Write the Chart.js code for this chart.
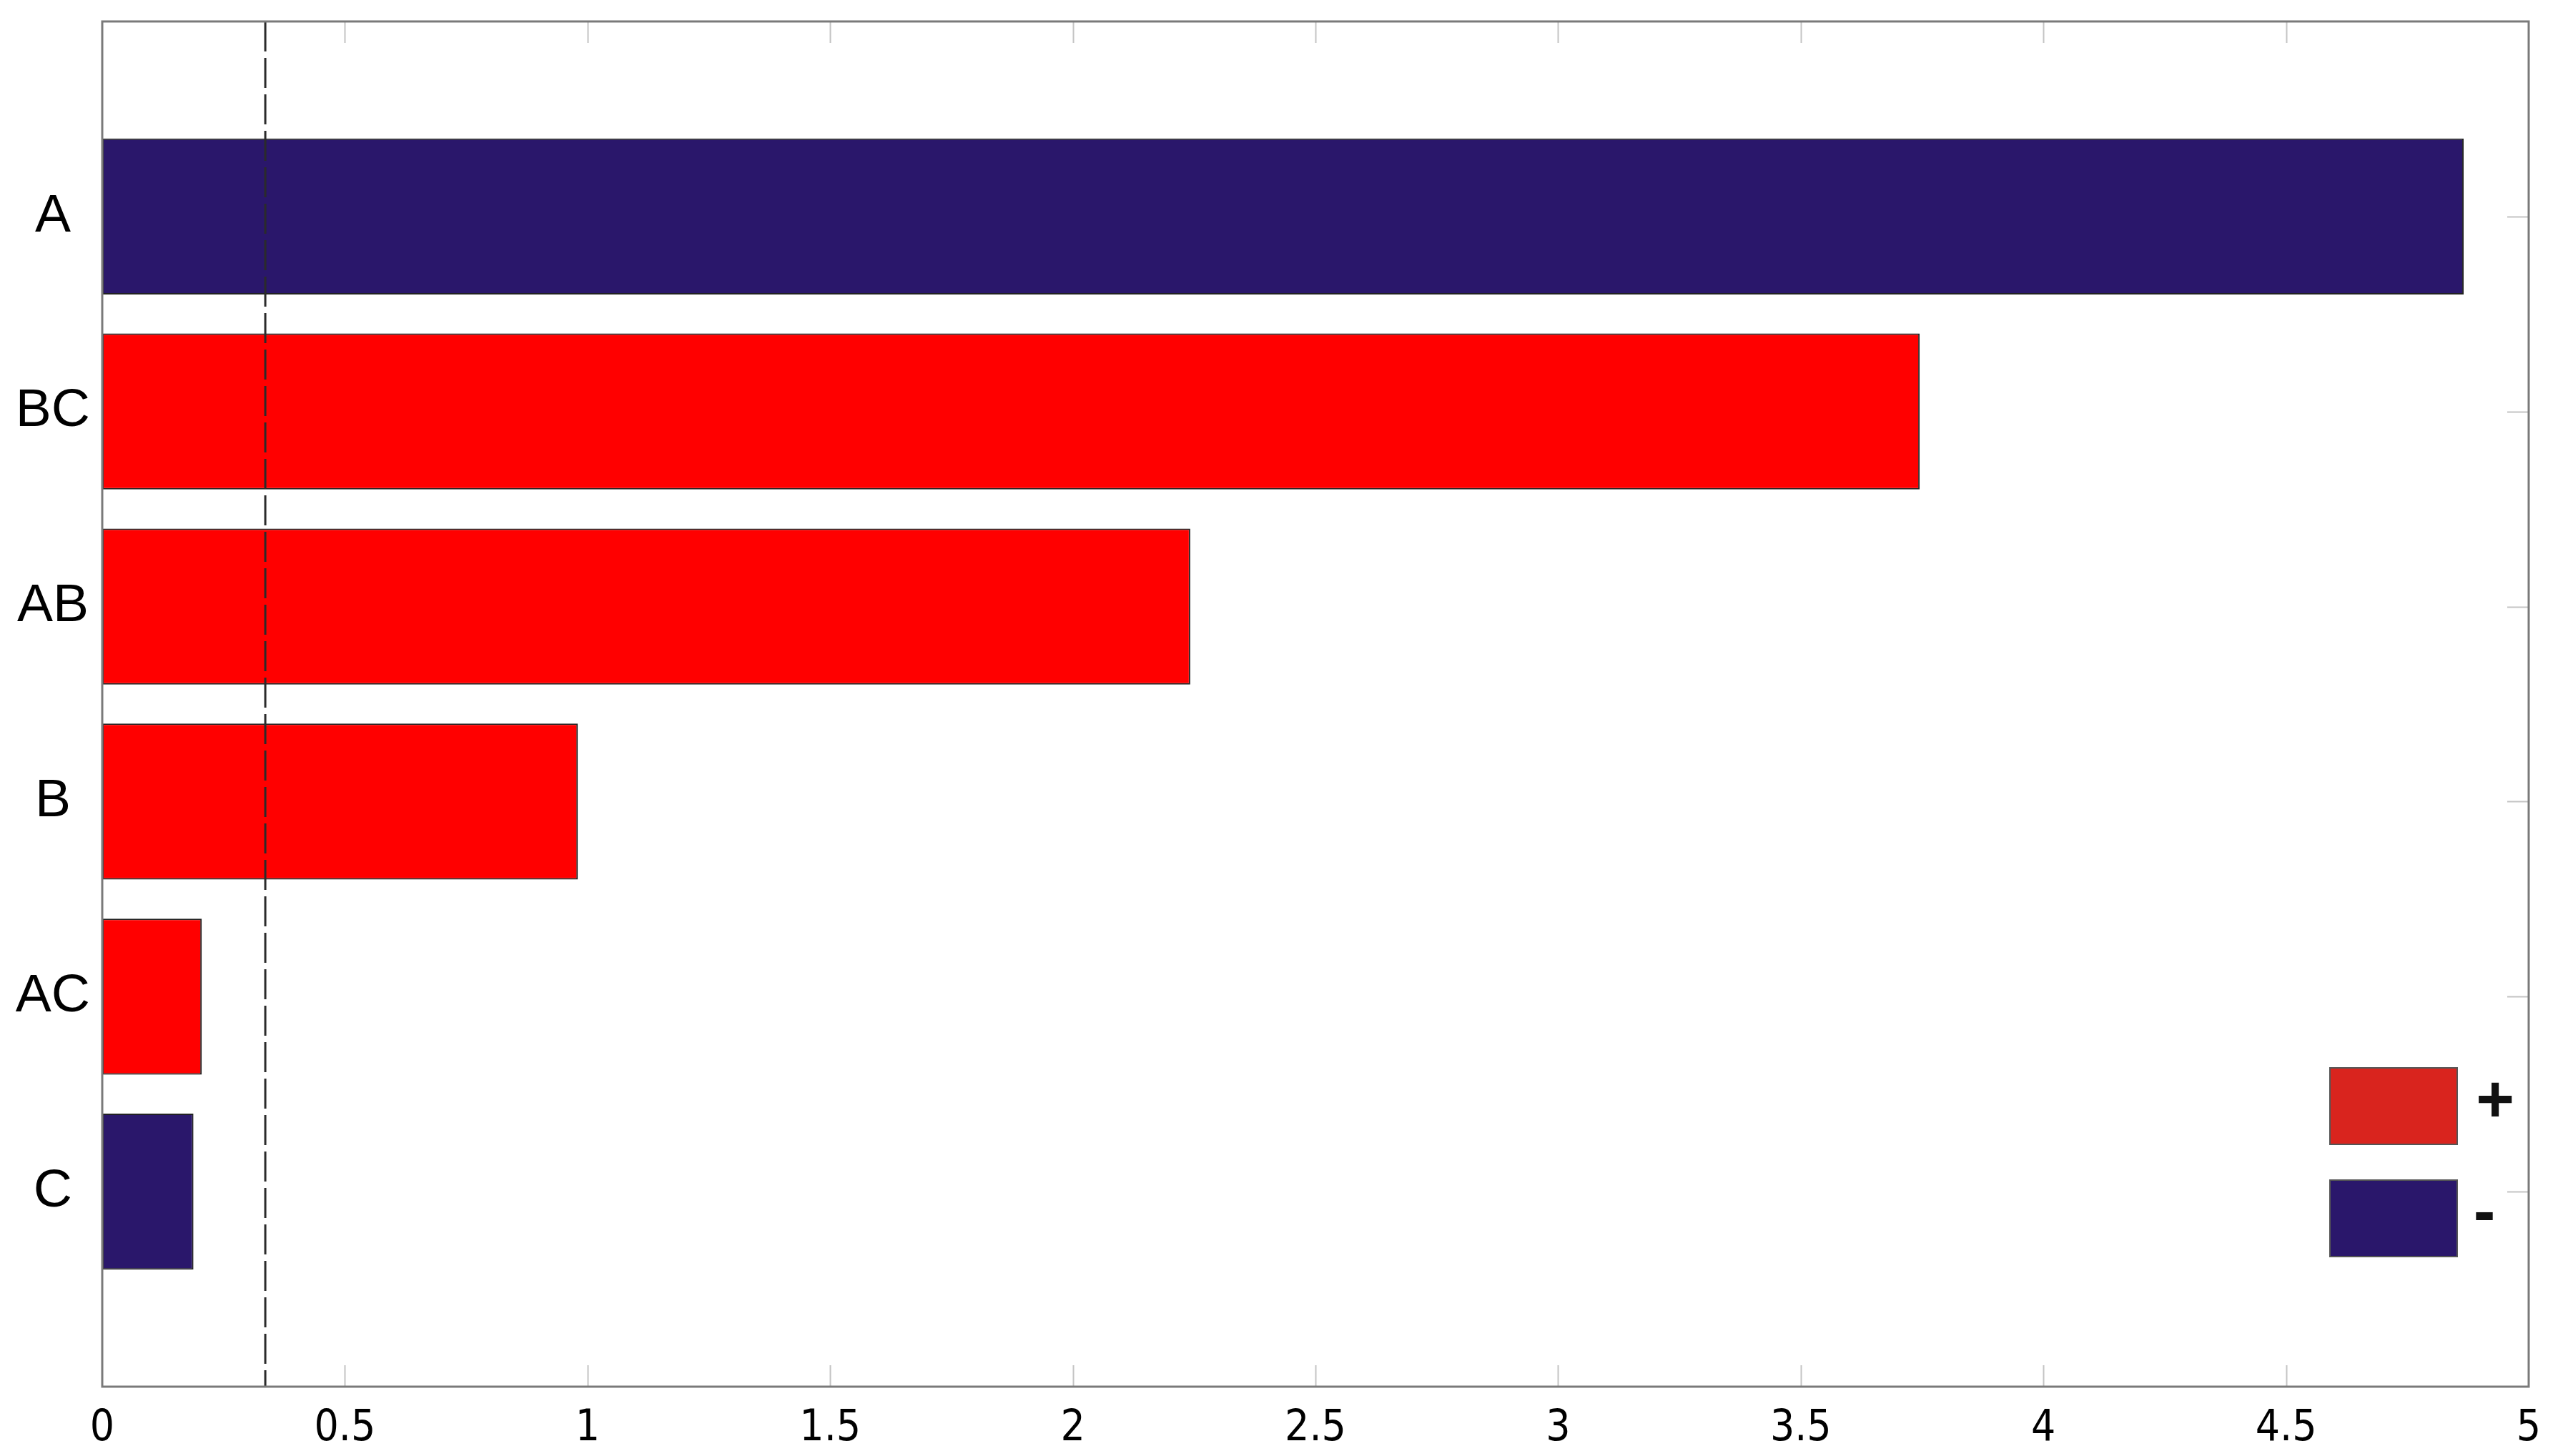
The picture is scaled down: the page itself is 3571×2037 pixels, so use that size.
<!DOCTYPE html>
<html>
<head>
<meta charset="utf-8">
<script src="https://cdn.jsdelivr.net/npm/chart.js@4.4.1/dist/chart.umd.min.js"></script>
<style>
  html, body { margin: 0; padding: 0; background: #fff; }
  #wrap { width: 3571px; height: 2037px; position: relative; }
</style>
</head>
<body>
<div id="wrap"><canvas id="chart"></canvas></div>
<script>
// effect names, top to bottom
const categories = ['A', 'BC', 'AB', 'B', 'AC', 'C'];
// absolute effect size
const values = [4.866, 3.745, 2.242, 0.98, 0.205, 0.188];
// sign of each effect: '+' red, '-' navy
const signs = ['-', '+', '+', '+', '+', '-'];
// dashed reference line
const threshold = 0.336;
const xTicks = [0, 0.5, 1, 1.5, 2, 2.5, 3, 3.5, 4, 4.5, 5];
const legendItems = ['+', '-'];

const RED = '#ff0000';
const NAVY = '#2a176b';
const LEGEND_COLORS = { '+': '#d9241e', '-': '#2a176b' };

const framePlugin = {
  id: 'frame',
  beforeDatasetsDraw(chart) {
    const { ctx, chartArea: a, scales: { x, y } } = chart;
    ctx.save();
    ctx.strokeStyle = '#c4c4c4';
    ctx.lineWidth = 2;
    ctx.beginPath();
    xTicks.slice(1, -1).forEach(v => {
      const px = Math.round(x.getPixelForValue(v)) + 0.5;
      ctx.moveTo(px, a.bottom); ctx.lineTo(px, a.bottom - 30);
      ctx.moveTo(px, a.top); ctx.lineTo(px, a.top + 30);
    });
    categories.forEach((c, i) => {
      const py = Math.round(y.getPixelForValue(i + 1)) + 0.5;
      ctx.moveTo(a.right, py); ctx.lineTo(a.right - 30, py);
      ctx.moveTo(a.left, py); ctx.lineTo(a.left + 30, py);
    });
    ctx.stroke();
    ctx.restore();
  },
  afterDatasetsDraw(chart) {
    const { ctx, chartArea: a, scales: { x } } = chart;
    ctx.save();
    // dashed line
    const tx = x.getPixelForValue(threshold);
    ctx.strokeStyle = '#2b2b2b';
    ctx.lineWidth = 3;
    ctx.setLineDash([42, 9]);
    ctx.beginPath();
    ctx.moveTo(tx, a.top);
    ctx.lineTo(tx, a.bottom);
    ctx.stroke();
    ctx.setLineDash([]);
    // box
    ctx.strokeStyle = '#7a7a7a';
    ctx.lineWidth = 3;
    ctx.strokeRect(a.left, a.top, a.right - a.left, a.bottom - a.top);
    ctx.restore();
  },
  afterDraw(chart) {
    const { ctx, chartArea: a } = chart;
    ctx.save();
    const bw = 178, bh = 107;
    const bx = a.right - 100 - bw;
    const tops = [a.bottom - 446, a.bottom - 289];
    legendItems.forEach((s, i) => {
      ctx.fillStyle = LEGEND_COLORS[s];
      ctx.fillRect(bx, tops[i], bw, bh);
      ctx.strokeStyle = '#555';
      ctx.lineWidth = 2;
      ctx.strokeRect(bx, tops[i], bw, bh);
      ctx.fillStyle = '#111';
      ctx.font = 'bold 92px "Liberation Sans", Arial, sans-serif';
      ctx.textAlign = 'center';
      ctx.textBaseline = 'middle';
      ctx.fillText(s, i === 0 ? bx + bw + 53 : bx + bw + 38, tops[i] + bh / 2 - 4);
    });
    ctx.restore();
  }
};

new Chart(document.getElementById('chart'), {
  type: 'bar',
  data: {
    datasets: [{
      data: categories.map((c, i) => ({ x: values[i], y: i + 1 })),
      backgroundColor: signs.map(s => s === '+' ? RED : NAVY),
      borderColor: '#222',
      borderWidth: 2,
      borderSkipped: false,
      categoryPercentage: 1,
      barPercentage: 0.8
    }]
  },
  options: {
    indexAxis: 'y',
    responsive: true,
    maintainAspectRatio: false,
    animation: false,
    layout: { padding: { top: 30, right: 34, bottom: 9, left: 0 } },
    plugins: { legend: { display: false }, tooltip: { enabled: false } },
    scales: {
      x: {
        type: 'linear',
        min: 0,
        max: 5,
        grid: { display: false, drawTicks: false },
        border: { display: false },
        afterBuildTicks: scale => { scale.ticks = xTicks.map(v => ({ value: v })); },
        afterFit: scale => {
          scale.height = 88;
          scale.paddingLeft = 0;
          scale.paddingRight = 0;
        },
        ticks: {
          padding: 23,
          color: '#000',
          maxRotation: 0,
          autoSkip: false,
          font: { family: '"Liberation Sans Narrow", "DejaVu Sans Condensed", sans-serif', size: 60 },
          callback: v => String(v)
        }
      },
      y: {
        type: 'linear',
        min: 0,
        max: 7,
        offset: false,
        reverse: true,
        grid: { display: false, drawTicks: false },
        border: { display: false },
        afterFit: scale => {
          scale.width = 143;
          scale.paddingTop = 0;
          scale.paddingBottom = 0;
        },
        afterBuildTicks: scale => { scale.ticks = categories.map((c, i) => ({ value: i + 1 })); },
        ticks: {
          padding: 17,
          crossAlign: 'center',
          color: '#000',
          font: { family: '"Liberation Sans", Arial, sans-serif', size: 75 },
          callback: v => categories[v - 1] || ''
        }
      }
    }
  },
  plugins: [framePlugin]
});
</script>
</body>
</html>
